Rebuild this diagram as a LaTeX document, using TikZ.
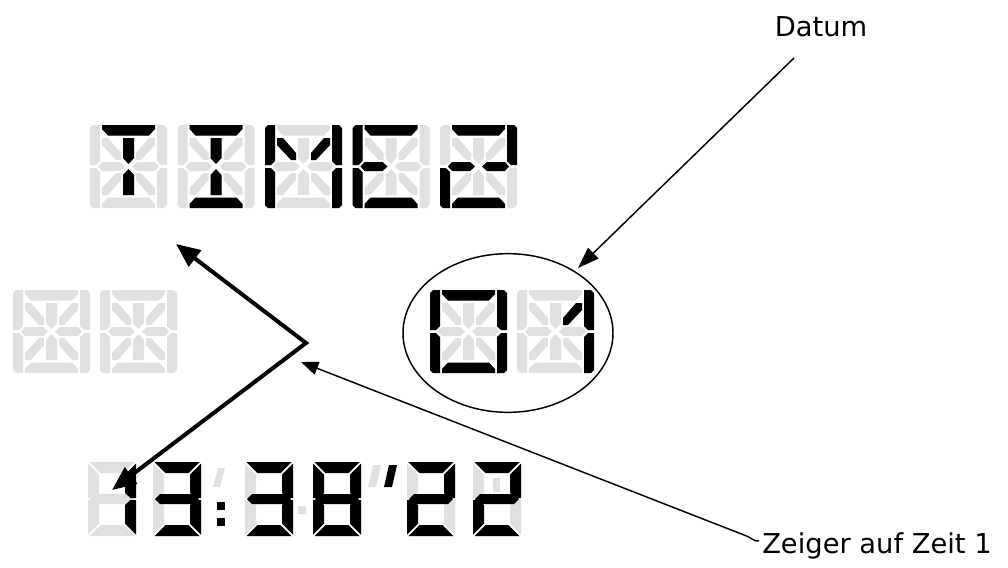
\documentclass[tikz,border=0pt]{standalone}
\usepackage{fontspec}
\setmainfont{DejaVu Sans}
\usetikzlibrary{arrows.meta,shapes.geometric}
\definecolor{lcdoff}{RGB}{224,224,224}
\definecolor{lcdon}{RGB}{0,0,0}
\tikzset{
  fsnone/.pic={},
  fsa/.pic={\path[pic actions] (12,0) -- (65,0) -- (65,4) -- (59,10.5) -- (18,10.5) -- (12,4) -- cycle;},
  fsd/.pic={\path[pic actions] (12,83) -- (65,83) -- (65,79) -- (59,72.5) -- (18,72.5) -- (12,79) -- cycle;},
  fsf/.pic={\path[pic actions] (0,3) -- (3,0) -- (10,0) -- (10,36) -- (6,40) -- (0,40) -- cycle;},
  fse/.pic={\path[pic actions] (0,43) -- (6,43) -- (10,47) -- (10,83) -- (3,83) -- (0,80) -- cycle;},
  fsb/.pic={\path[pic actions] (77,3) -- (74,0) -- (67,0) -- (67,36) -- (71,40) -- (77,40) -- cycle;},
  fsc/.pic={\path[pic actions] (77,43) -- (71,43) -- (67,47) -- (67,83) -- (74,83) -- (77,80) -- cycle;},
  fsgl/.pic={\path[pic actions] (8,41.5) -- (12,37) -- (30,37) -- (35,41.5) -- (30,46) -- (12,46) -- cycle;},
  fsgr/.pic={\path[pic actions] (69,41.5) -- (65,37) -- (47,37) -- (42,41.5) -- (47,46) -- (65,46) -- cycle;},
  fscu/.pic={\path[pic actions] (33,13) -- (44,13) -- (44,33) -- (38.5,39) -- (33,33) -- cycle;},
  fscd/.pic={\path[pic actions] (33,70) -- (44,70) -- (44,50) -- (38.5,44) -- (33,50) -- cycle;},
  fsdul/.pic={\path[pic actions] (12,13) -- (18,13) -- (31,28) -- (31,35) -- (26,35) -- (12,20) -- cycle;},
  fsdur/.pic={\path[pic actions] (65,13) -- (59,13) -- (46,28) -- (46,35) -- (51,35) -- (65,20) -- cycle;},
  fsdll/.pic={\path[pic actions] (12,70) -- (18,70) -- (31,55) -- (31,48) -- (26,48) -- (12,63) -- cycle;},
  fsdlr/.pic={\path[pic actions] (65,70) -- (59,70) -- (46,55) -- (46,48) -- (51,48) -- (65,63) -- cycle;},
  ssa/.pic={\path[pic actions] (1.5,0) -- (46.5,0) -- (35.5,11) -- (12.5,11) -- cycle;},
  ssb/.pic={\path[pic actions] (48,1.5) -- (48,36) -- (42.5,36) -- (37,31) -- (37,12.5) -- cycle;},
  ssc/.pic={\path[pic actions] (48,38) -- (48,72.5) -- (37,61.5) -- (37,43) -- (42.5,38) -- cycle;},
  ssd/.pic={\path[pic actions] (1.5,74) -- (46.5,74) -- (35.5,63) -- (12.5,63) -- cycle;},
  sse/.pic={\path[pic actions] (0,38) -- (5.5,38) -- (11,43) -- (11,61.5) -- (0,72.5) -- cycle;},
  ssf/.pic={\path[pic actions] (0,1.5) -- (11,12.5) -- (11,31) -- (5.5,36) -- (0,36) -- cycle;},
  ssg/.pic={\path[pic actions] (2,37) -- (7,32) -- (41,32) -- (46,37) -- (41,42) -- (7,42) -- cycle;},
  label/.style={font=\fontsize{20.5pt}{24pt}\selectfont, inner sep=0pt},
  thin arrow/.style={line width=1.1pt, -{Triangle[length=16pt,width=11pt]}},
  pointer arrow/.style={line width=1.1pt, -{Triangle[length=13pt,width=10pt]}},
  thick arrow/.style={line width=3pt, {Triangle[length=18pt,width=15pt]}-{Triangle[length=18pt,width=15pt]}, miter limit=10},
}
\newcommand\lcdchar[2]{%
  \begin{scope}[shift={#1}]
    \foreach \s in {a,b,c,d,e,f,gl,gr,cu,cd,dul,dur,dll,dlr} {\pic[fill=lcdoff] {fs\s};}
    \foreach \s in {#2} {\pic[fill=lcdon] {fs\s};}
  \end{scope}}
\newcommand\lcdseven[2]{%
  \begin{scope}[shift={#1}]
    \foreach \s in {a,b,c,d,e,f,g} {\pic[fill=lcdoff] {ss\s};}
    \foreach \s in {#2} {\pic[fill=lcdon] {ss\s};}
  \end{scope}}
\begin{document}
\begin{tikzpicture}[x=0.75pt,y=-0.75pt]
\useasboundingbox (0,0) rectangle (1008,568);
% top row TIME2
\lcdchar{(90,125)}{a,cu,cd}
\lcdchar{(177.5,125)}{a,cu,cd,d}
\lcdchar{(265,125)}{f,e,b,c,dul,dur}
\lcdchar{(352.5,125)}{a,f,e,gl,d}
\lcdchar{(440,125)}{a,b,gl,gr,e,d}
% middle left (all off)
\lcdchar{(13,290)}{none}
\lcdchar{(100,290)}{none}
% date 01
\lcdchar{(430,290)}{a,b,c,d,e,f}
\lcdchar{(517,290)}{b,c,dur}
% clock digits
\lcdseven{(88,462)}{b,c}
\lcdseven{(153,462)}{a,b,c,d,g}
\lcdseven{(245,462)}{a,b,c,d,g}
\lcdseven{(313,462)}{a,b,c,d,e,f,g}
\lcdseven{(407,462)}{a,b,g,e,d}
\lcdseven{(473,462)}{a,b,g,e,d}
% colon, ticks, dots
\fill[lcdoff] (218,468) -- (225,468) -- (220,487) -- (213,487) -- cycle;
\fill[lcdon] (217,502) rectangle (225,510);
\fill[lcdon] (217,518) rectangle (225,526);
\fill[lcdoff] (298,506) rectangle (306,514);
\fill[lcdoff] (373,465) -- (381,465) -- (376,487) -- (368,487) -- cycle;
\fill[lcdon] (389,465) -- (397,465) -- (392,487) -- (384,487) -- cycle;
\fill[lcdoff] (493,478) rectangle (500,492);
% ellipse round the date
\node[draw, ellipse, line width=1.1pt, minimum width=157.5pt, minimum height=119pt, inner sep=0pt] (datering) at (508,333) {};
% labels
\node[label] (datum) at (821,27) {Datum};
\node[label, anchor=base west] (zeiger) at (762,553) {Zeiger auf Zeit 1};
% connectors
\coordinate (datumfoot) at (794,58);
\coordinate (datumtip) at (578,268);
\draw[thin arrow] (datumfoot) -- (datumtip);
\coordinate (zeigerfoot) at (759,541);
\coordinate (zeigertip) at (301,362);
\draw[pointer arrow] (zeigerfoot) .. controls (754,542) and (751,537) .. (744,535) -- (zeigertip);
\coordinate (vtx) at (306,343);
\coordinate (tiptime) at (176,244);
\coordinate (tipclock) at (112,490);
\draw[thick arrow] (tiptime) -- (vtx) -- (tipclock);
\end{tikzpicture}
\end{document}
